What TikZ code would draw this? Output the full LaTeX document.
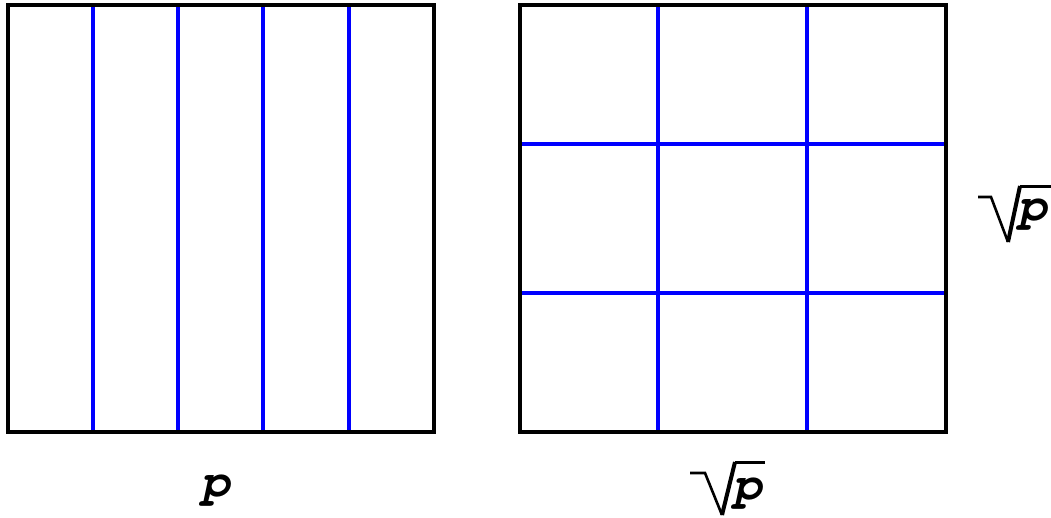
\documentclass[tikz,border=0pt]{standalone}
\usepackage{fontspec}
\newfontfamily\cour{TeX Gyre Cursor}
\begin{document}
\begin{tikzpicture}[x=1pt,y=-1pt,
  frame/.style={draw=black,line width=3.8pt},
  grid/.style={draw=blue,line width=3.6pt},
  rad/.style={draw=black,line width=2.6pt,line join=miter},
  lab/.style={font=\cour\bfseries\itshape\fontsize{48}{48}\selectfont, inner sep=0pt}]
\useasboundingbox (0,0) rectangle (1051,517);
% left
\coordinate (L1) at (8,5); \coordinate (L2) at (434,432);
\foreach \x in {93,178,263,349}{\draw[grid] (\x,5) -- (\x,432);}
\draw[frame] (L1) rectangle (L2);
% right
\coordinate (R1) at (520,5); \coordinate (R2) at (946,432);
\foreach \x in {658,807}{\draw[grid] (\x,5) -- (\x,432);}
\foreach \y in {144,293}{\draw[grid] (520,\y) -- (946,\y);}
\draw[frame] (R1) rectangle (R2);
% labels
\node[lab] (p) at (216,491) {p};
\node[lab] (pb) at (748,494) {p};
\node[lab] (pr) at (1033,215) {p};
% radical signs
\coordinate (b1) at (690,473); \coordinate (b2) at (705,473);
\coordinate (b3) at (722,515); \coordinate (b4) at (735,462);
\coordinate (b5) at (765,462);
\draw[rad] (b1) -- (b2) -- (b3);
\draw[rad,line width=4pt] (b3) -- (b4);
\draw[rad,line width=3pt] (b4) -- (b5);
\coordinate (r1) at (978,197); \coordinate (r2) at (991,197);
\coordinate (r3) at (1008,242); \coordinate (r4) at (1020,186);
\coordinate (r5) at (1051,186);
\draw[rad] (r1) -- (r2) -- (r3);
\draw[rad,line width=4pt] (r3) -- (r4);
\draw[rad,line width=3pt] (r4) -- (r5);
\end{tikzpicture}
\end{document}
